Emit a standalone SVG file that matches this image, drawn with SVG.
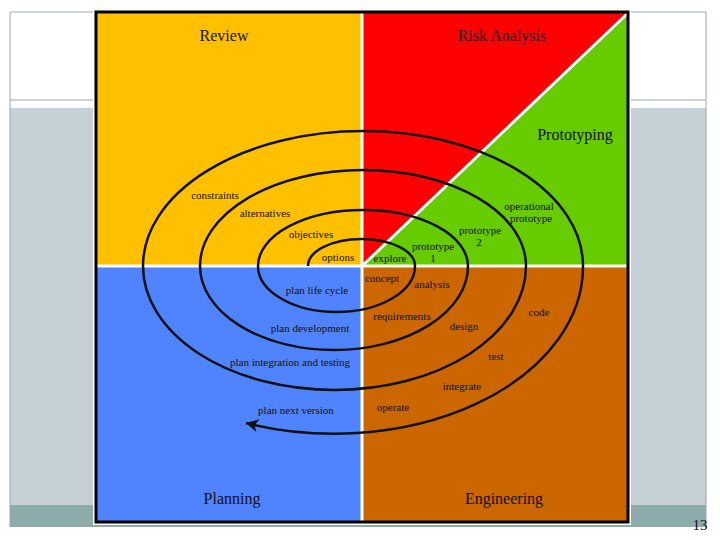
<svg xmlns="http://www.w3.org/2000/svg" width="720" height="540" viewBox="0 0 720 540">
<defs>
<style>
.lbl{font-family:"Liberation Serif","Times New Roman",serif;font-size:11px;fill:#111;text-anchor:middle}
.big{font-family:"Liberation Serif","Times New Roman",serif;font-size:16px;fill:#111;text-anchor:middle}
.div{stroke:#fff;stroke-width:3;fill:none}
.slide{stroke:#9aa6ae;stroke-width:1;fill:none}
</style>
<marker id="arr" markerUnits="userSpaceOnUse" markerWidth="16" markerHeight="16" refX="12" refY="0" viewBox="-2 -8 16 16" orient="auto">
<path d="M0,-6 L12,0 L0,7 L3,0 Z" fill="#111"/>
</marker>
</defs>
<rect width="720" height="540" fill="#fff"/>
<g id="slide">
<rect x="10" y="108" width="696" height="397" fill="#c6d1d7"/>
<rect x="10" y="505" width="696" height="22" fill="#8eabab"/>
<line class="slide" x1="10" y1="12" x2="706" y2="12"/>
<line class="slide" x1="10" y1="100" x2="706" y2="100"/>
<line class="slide" x1="10" y1="12" x2="10" y2="527"/>
<line class="slide" x1="706" y1="12" x2="706" y2="527"/>
<text x="700" y="530" font-family="Liberation Serif, serif" font-size="15" fill="#111" text-anchor="middle">13</text>
</g>
<g id="frame">
<rect x="93" y="9" width="538" height="516" fill="#fff"/>
<rect id="review" x="96" y="12" width="266" height="254" fill="#ffc000"/>
<polygon id="risk" points="362,12 628,12 362,266" fill="#ff0000"/>
<polygon id="proto" points="628,12 628,266 362,266" fill="#66cc00"/>
<rect id="planning" x="96" y="266" width="266" height="256" fill="#4f83ff"/>
<rect id="engineering" x="362" y="266" width="266" height="256" fill="#cc6600"/>
<line class="div" x1="362" y1="12" x2="362" y2="522"/>
<line class="div" x1="96" y1="266" x2="628" y2="266"/>
<line class="div" x1="362" y1="266" x2="627" y2="14"/>
<rect x="96" y="12" width="532" height="510" fill="none" stroke="#000" stroke-width="3"/>
</g>
<g id="connectors">
<path d="M308,266 A53.5,27 0 0 1 415,266 A78.5,46 0 0 1 258,266 A105,56 0 0 1 468,266 A134,84 0 0 1 200,266 A163,96 0 0 1 526,266 A191.5,124 0 0 1 143,266 A220,135 0 0 1 583,266 A249,167 0 0 1 246,423" fill="none" stroke="#111" stroke-width="2.5" marker-end="url(#arr)"/>
</g>
<g id="quadrant-labels">
<text class="big" x="224" y="41">Review</text>
<text class="big" x="502" y="41">Risk Analysis</text>
<text class="big" x="575" y="140">Prototyping</text>
<text class="big" x="232" y="504">Planning</text>
<text class="big" x="504" y="504">Engineering</text>
</g>
<g id="spiral-labels">
<text class="lbl" x="215" y="199">constraints</text>
<text class="lbl" x="265" y="217">alternatives</text>
<text class="lbl" x="311" y="238">objectives</text>
<text class="lbl" x="338" y="261">options</text>
<text class="lbl" x="390" y="262">explore</text>
<text class="lbl" x="433" y="250">prototype</text>
<text class="lbl" x="433" y="262">1</text>
<text class="lbl" x="480" y="234">prototype</text>
<text class="lbl" x="479" y="246">2</text>
<text class="lbl" x="529" y="210">operational</text>
<text class="lbl" x="531" y="222">prototype</text>
<text class="lbl" x="382" y="282">concept</text>
<text class="lbl" x="432" y="288">analysis</text>
<text class="lbl" x="317" y="294">plan life cycle</text>
<text class="lbl" x="402" y="320">requirements</text>
<text class="lbl" x="464" y="330">design</text>
<text class="lbl" x="539" y="316">code</text>
<text class="lbl" x="310" y="332">plan development</text>
<text class="lbl" x="496" y="360">test</text>
<text class="lbl" x="290" y="366">plan integration and testing</text>
<text class="lbl" x="462" y="390">integrate</text>
<text class="lbl" x="296" y="414">plan next version</text>
<text class="lbl" x="393" y="411">operate</text>
</g>
</svg>
